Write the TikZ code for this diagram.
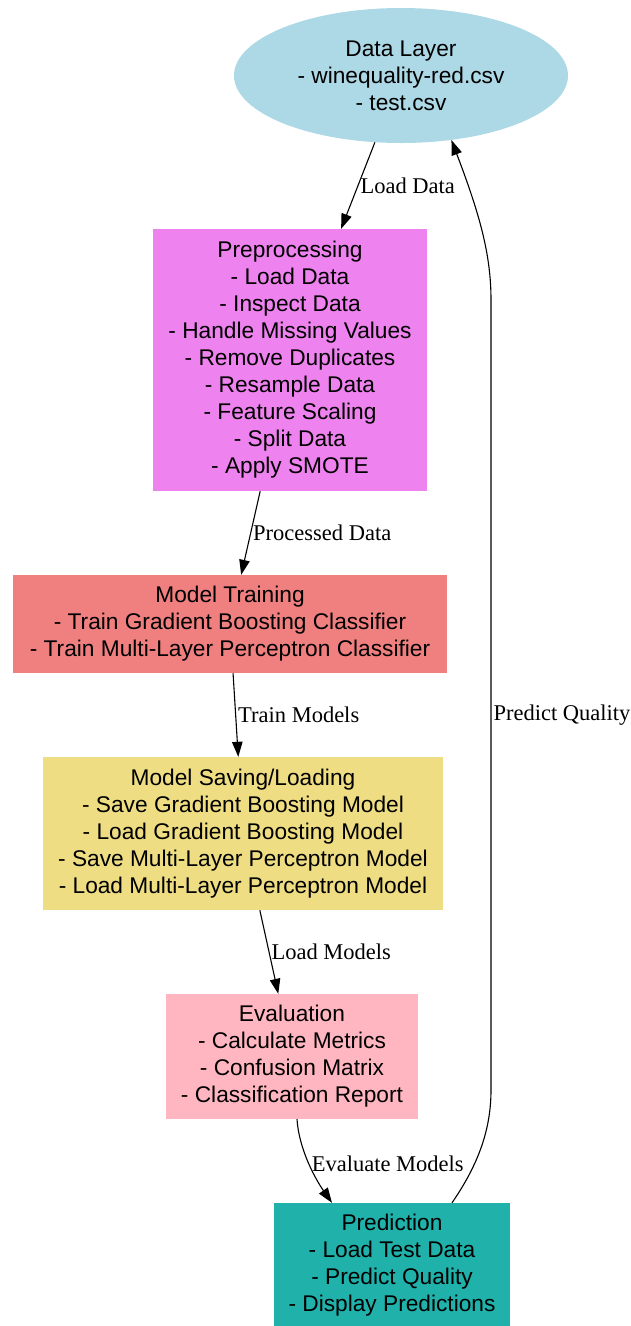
\documentclass[tikz,border=0pt]{standalone}
\usepackage{fontspec}
\usepackage{xcolor}
\usepackage{tikz}
\usetikzlibrary{arrows.meta}
\usetikzlibrary{shapes.geometric}
\newfontfamily\boxfont{Liberation Sans}
\newfontfamily\edgefont{Liberation Serif}
\definecolor{gvlightblue}{HTML}{ADD8E6}
\definecolor{gvviolet}{HTML}{EE82EE}
\definecolor{gvcoral}{HTML}{F08080}
\definecolor{gvgold}{HTML}{EEDD82}
\definecolor{gvpink}{HTML}{FFB6C1}
\definecolor{gvseagreen}{HTML}{20B2AA}

\begin{document}
\begin{tikzpicture}[
    x=1pt, y=-1pt,
    capa/.style={rectangle, inner sep=0pt, align=center, text=black, font=\boxfont\fontsize{22.7}{27}\selectfont},
    flecha/.style={draw=black, line width=1.1pt, -{Triangle[length=15pt,width=10.5pt]}},
    etiqueta/.style={font=\edgefont\fontsize{22.5}{27}\selectfont, text=black, anchor=west, inner sep=2pt}
]
\useasboundingbox (0,0) rectangle (630,1326);

% Capas
\node[capa, ellipse, fill=gvlightblue, minimum width=334pt, minimum height=135pt] (datos) at (401,75.5) {Data Layer\\- winequality-red.csv\\- test.csv};
\node[capa, fill=gvviolet, minimum width=274pt, minimum height=262pt] (prep) at (290,360) {Preprocessing\\- Load Data\\- Inspect Data\\- Handle Missing Values\\- Remove Duplicates\\- Resample Data\\- Feature Scaling\\- Split Data\\- Apply SMOTE};
\node[capa, fill=gvcoral, minimum width=434pt, minimum height=98pt] (entren) at (230,624) {Model Training\\- Train Gradient Boosting Classifier\\- Train Multi-Layer Perceptron Classifier};
\node[capa, fill=gvgold, minimum width=400pt, minimum height=153pt] (guardar) at (243,833.5) {Model Saving/Loading\\- Save Gradient Boosting Model\\- Load Gradient Boosting Model\\- Save Multi-Layer Perceptron Model\\- Load Multi-Layer Perceptron Model};
\node[capa, fill=gvpink, minimum width=252pt, minimum height=125pt] (eval) at (292,1056.5) {Evaluation\\- Calculate Metrics\\- Confusion Matrix\\- Classification Report};
\node[capa, fill=gvseagreen, minimum width=236pt, minimum height=125pt] (pred) at (392,1265.5) {Prediction\\- Load Test Data\\- Predict Quality\\- Display Predictions};

% Flechas
\draw[flecha] (datos) -- node[etiqueta] {Load Data} (prep);
\draw[flecha] (prep) -- node[etiqueta] {Processed Data} (entren);
\draw[flecha] (entren) -- node[etiqueta] {Train Models} (guardar);
\draw[flecha] (guardar) -- node[etiqueta] {Load Models} (eval);
\draw[flecha] ([xshift=5pt]eval.south) .. controls (299,1150) and (316,1180) .. node[etiqueta] {Evaluate Models} ([xshift=-60pt]pred.north);

% vuelta hacia la capa de datos
\coordinate (pq1) at (491,1090);
\coordinate (pq2) at (491,300);
\draw[flecha] ([xshift=60pt]pred.north) .. controls (478,1165) and (491,1130) .. (pq1)
    -- node[etiqueta, pos=0.475] {Predict Quality} (pq2)
    .. controls (491,255) and (480,215) .. (datos.-52.5);

\end{tikzpicture}
\end{document}
